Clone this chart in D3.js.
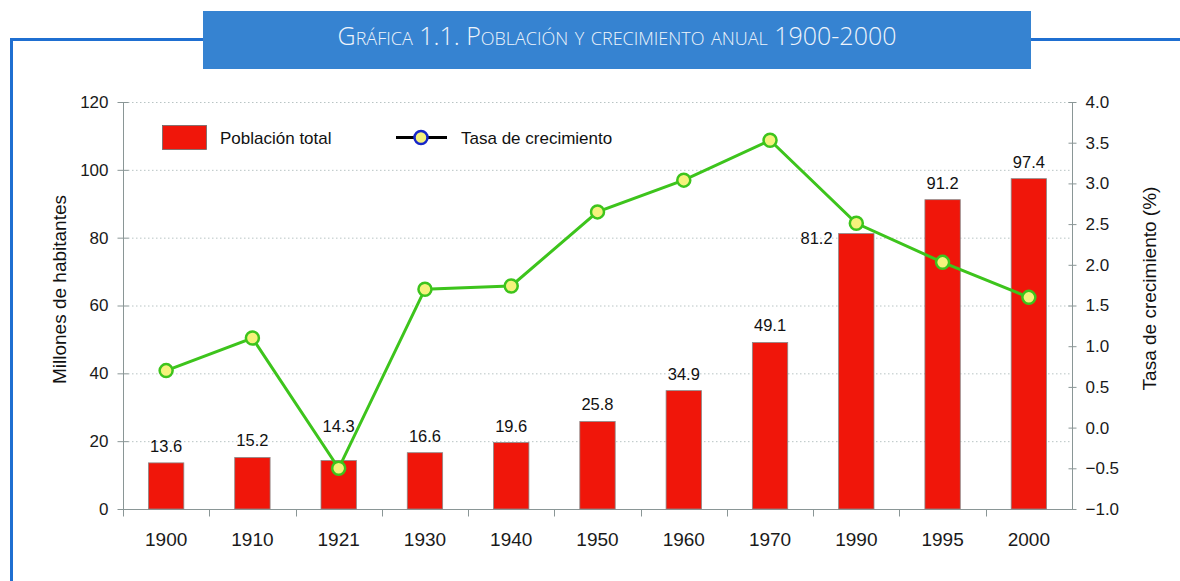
<!DOCTYPE html>
<html>
<head>
<meta charset="utf-8">
<script src="https://cdn.jsdelivr.net/npm/d3@7"></script>
<style>
  body { margin: 0; background: #fff; }
  svg { display: block; }
  text { font-family: "Liberation Sans", Arial, sans-serif; fill: #111; }
</style>
</head>
<body>
<div id="chart"></div>
<script>
const years = ["1900", "1910", "1921", "1930", "1940", "1950", "1960", "1970", "1990", "1995", "2000"];
const population = [13.6, 15.2, 14.3, 16.6, 19.6, 25.8, 34.9, 49.1, 81.2, 91.2, 97.4];
const growth = [0.7, 1.1, -0.5, 1.7, 1.74, 2.65, 3.04, 3.53, 2.51, 2.03, 1.6];
const leftTicks = [0, 20, 40, 60, 80, 100, 120];
const rightTicks = [-1, -0.5, 0, 0.5, 1, 1.5, 2, 2.5, 3, 3.5, 4];

const w = 1180, h = 581;
const mLeft = 123, mRight = 1072, mTop = 102, mBottom = 509;
const axisColor = "#8a9696";
const barColor = "#f0160a";
const lineColor = "#3dc41c";

const svg = d3.select("#chart").append("svg")
    .attr("width", w)
    .attr("height", h);

// frame + title box
svg.append("path")
    .attr("d", "M11.5,581 L11.5,39.5 L1180,39.5")
    .attr("fill", "none")
    .attr("stroke", "#1f6fd1")
    .attr("stroke-width", 3);
svg.append("rect")
    .attr("x", 203).attr("y", 11)
    .attr("width", 828).attr("height", 58)
    .attr("fill", "#3683d1");
svg.append("text")
    .attr("x", 617).attr("y", 45)
    .attr("text-anchor", "middle")
    .style("font-family", "'Open Sans', sans-serif")
    .style("font-weight", 300)
    .style("font-variant", "small-caps")
    .style("font-size", "25px")
    .style("fill", "#eef4fb")
    .text("Gráfica 1.1. Población y crecimiento anual 1900-2000");

const x = d3.scaleBand().domain(years).range([mLeft, mRight]).paddingInner(0.59).paddingOuter(0.295);
const xTicks = d3.scaleBand().domain(years).range([mLeft, mRight]);
const y = d3.scaleLinear().domain([0, 120]).range([mBottom, mTop]);
const y2 = d3.scaleLinear().domain([-1, 4]).range([mBottom, mTop]);

// gridlines
svg.append("g")
    .selectAll("line")
    .data(leftTicks.filter(d => d > 0))
    .join("line")
    .attr("x1", mLeft + 5).attr("x2", mRight)
    .attr("y1", d => y(d) + 0.5).attr("y2", d => y(d) + 0.5)
    .attr("stroke", "#b8c4c4")
    .attr("stroke-width", 1)
    .attr("stroke-dasharray", "1.5,2.5");

// left axis
const gl = svg.append("g")
    .attr("transform", `translate(${mLeft + 0.5},0)`)
    .call(d3.axisLeft(y).tickValues(leftTicks).tickSize(5).tickPadding(10));
gl.selectAll(".tick line").attr("x2", -6).attr("x1", 5);
// right axis
const gr = svg.append("g")
    .attr("transform", `translate(${mRight + 0.5},0)`)
    .call(d3.axisRight(y2).tickValues(rightTicks).tickFormat(d3.format(".1f")).tickSize(5).tickPadding(8));
gr.selectAll(".tick line").attr("x1", -4).attr("x2", 4);
// bottom axis
const gb = svg.append("g")
    .attr("transform", `translate(0,${mBottom + 0.5})`)
    .call(d3.axisBottom(x).tickSize(0).tickPadding(23));
gb.selectAll(".tick line").remove();
gb.selectAll("line.sep")
    .data(years)
    .join("line")
    .attr("class", "sep")
    .attr("x1", d => Math.round(xTicks(d)) + 0.5).attr("x2", d => Math.round(xTicks(d)) + 0.5)
    .attr("y1", 0).attr("y2", 7);

[gl, gr, gb].forEach(g => {
    g.select(".domain").attr("stroke", axisColor);
    g.selectAll("line").attr("stroke", axisColor);
    g.selectAll("text").style("font-size", "17px").style("fill", "#1a1a1a")
        .style("font-family", "'Liberation Sans', Arial, sans-serif");
});
gr.select(".domain").attr("d", `M0,${mTop}V${mBottom}`);
gl.select(".domain").attr("d", `M0,${mTop}V${mBottom}`);
gb.select(".domain").attr("d", `M${mLeft},0H${mRight}`);
gb.selectAll(".tick text").style("font-size", "19px");

// axis titles
svg.append("text")
    .attr("transform", `translate(66,${(mTop + mBottom) / 2 - 16}) rotate(-90)`)
    .attr("text-anchor", "middle")
    .style("font-size", "19px")
    .text("Millones de habitantes");
svg.append("text")
    .attr("transform", `translate(1156,${(mTop + mBottom) / 2 - 17}) rotate(-90)`)
    .attr("text-anchor", "middle")
    .style("font-size", "19px")
    .text("Tasa de crecimiento (%)");

// bars
svg.append("g")
    .selectAll("rect")
    .data(population)
    .join("rect")
    .attr("x", (d, i) => x(years[i]))
    .attr("y", d => y(d))
    .attr("width", x.bandwidth())
    .attr("height", d => mBottom - y(d))
    .attr("fill", barColor)
    .attr("stroke", "#8a8a8a")
    .attr("stroke-width", 0.8);

// bar labels
svg.append("g")
    .selectAll("text")
    .data(population)
    .join("text")
    .attr("x", (d, i) => years[i] === "1990" ? x(years[i]) - 6 : x(years[i]) + x.bandwidth() / 2)
    .attr("y", (d, i) => years[i] === "1921" ? y(d) - 28 : years[i] === "1990" ? y(d) + 10 : y(d) - 11)
    .attr("text-anchor", (d, i) => years[i] === "1990" ? "end" : "middle")
    .style("font-size", "16.5px")
    .text(d => d.toFixed(1));

// growth line
const cx = (d, i) => x(years[i]) + x.bandwidth() / 2;
const line = d3.line().x(cx).y(d => y2(d));
svg.append("path")
    .datum(growth)
    .attr("d", line)
    .attr("fill", "none")
    .attr("stroke", lineColor)
    .attr("stroke-width", 3);
svg.append("g")
    .selectAll("circle")
    .data(growth)
    .join("circle")
    .attr("cx", cx)
    .attr("cy", d => y2(d))
    .attr("r", 6.5)
    .attr("fill", "#f5f27c")
    .attr("stroke", lineColor)
    .attr("stroke-width", 2.5);

// legend
const lg = svg.append("g");
lg.append("rect")
    .attr("x", 162.5).attr("y", 125.5)
    .attr("width", 44).attr("height", 24)
    .attr("fill", barColor)
    .attr("stroke", "#6a6a6a")
    .attr("stroke-width", 0.8);
lg.append("text")
    .attr("x", 220).attr("y", 144)
    .style("font-size", "17px")
    .text("Población total");
lg.append("line")
    .attr("x1", 396).attr("x2", 447)
    .attr("y1", 137.5).attr("y2", 137.5)
    .attr("stroke", "#000")
    .attr("stroke-width", 3);
lg.append("circle")
    .attr("cx", 421).attr("cy", 137.5)
    .attr("r", 6.5)
    .attr("fill", "#f5f27c")
    .attr("stroke", "#1626c8")
    .attr("stroke-width", 2.5);
lg.append("text")
    .attr("x", 461).attr("y", 144)
    .style("font-size", "17px")
    .text("Tasa de crecimiento");
</script>
</body>
</html>
